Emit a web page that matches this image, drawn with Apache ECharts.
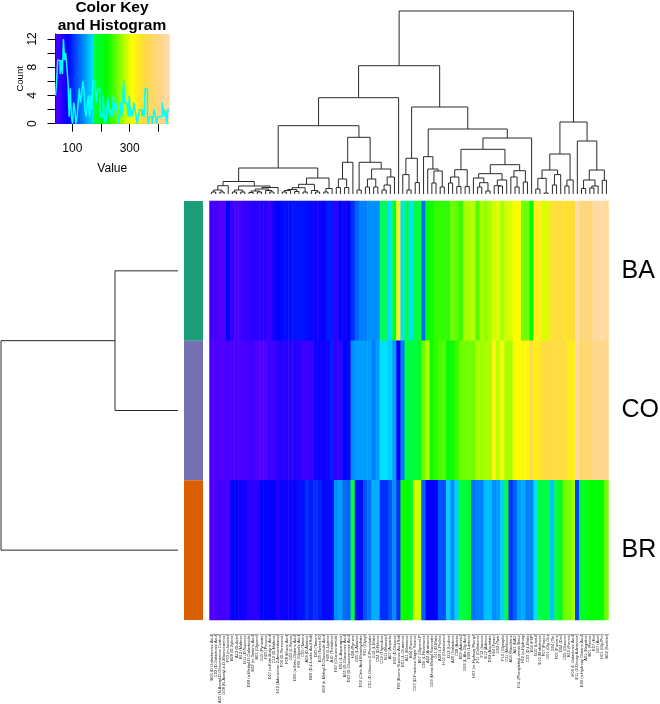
<!DOCTYPE html>
<html><head><meta charset="utf-8">
<style>html,body{margin:0;padding:0;background:#fff}#c{width:660px;height:704px}</style>
<script src="https://cdn.jsdelivr.net/npm/echarts@6/dist/echarts.min.js"></script></head>
<body><div id="c"></div>
<script>
const wellLabels = ["B06 (D-Galacturonic Acid)","C02 (D-Galactonic Acid)","A05 (N-Acetyl-D-Glucosamine Control)","G08 (N-Acetyl-b-D-Mannosamine)","F03 (m-Inositol)","B08 (D-Xylose)","A12 (Dulcitol)","B12 (Maltose)","D11 (D-Sucrose)","D08 (a-Methyl-D-Galactoside)","E02 (m-Tartaric Acid)","B03 (Glycerol)","G10 (Pyruvate)","H05 (Psicose)","D07 (a-Keto-Butyric Acid)","C10 (D-Maltose)","H12 (Adenosine-2-Aminoethanol)","F04 (D-Threonine)","F08 (Mucic Acid)","G03 (L-Serine)","D06 (a-Keto-Glutaric Acid)","F09 (Glycolic Acid)","C05 (Tween)","A09 (D-Alanine)","B09 (D,L-Lactic Acid Salt)","D05 (Tween)","E05 (Tween 80)","E08 (b-Methyl-D-Glucoside Acid)","H06 (L-Lyxose)","A10 (Trehalose)","H07 (Glucuronamide)","D01 (L-Asparagine)","B05 (D-Glucuronic Acid)","D03 (D-Glucosaminic Acid)","H08 (Pyruvic)","G05 (L-Alanine)","F02 (Citric Acid Monohydrate)","F01 (Glycyl)","C01 (D-Glucose-6-Phosphate)","G12 (L-Malic)","C04 (D-Ribose)","C12 (Thymidine)","B11 (Mannitol)","A07 (Aspartic)","E03 (D-Glucose)","F06 (Bromo Succinic Acid Salt)","E01 (L-Glutamine)","A11 (Mannose)","B04 (Fucose)","C07 (D-Fructose-Sugar Source)","B07 (Glycerol P)","C06 (L-Rhamnose)","A02 (Arabinose)","G09 (Mono Methyl Succinate)","G11 (D-Malic)","A08 (L-Proline)","H10 (Galacturon)","D12 (Uridine)","A06 (Galactose)","C08 (Acetic)","E09 (Adonitol)","G06 (L-Ala-Gly Acid)","D09 (Lactose)","H03 (m-Hydroxy Phenyl)","F11 (Cellobiose)","F12 (Inosine)","E12 (Adenos)","D02 (Aspartate)","H04 (Tyram)","G02 (Tartr)","F10 (Glyoxylic)","C11 (Melibiose)","A04 (Saccharic)","A03 (NAG)","H11 (Phenylethyl-amine Base)","H02 (p-Hydroxy)","C03 (D,L-Malic)","E04 (F6P)","D10 (Lactul)","E10 (Maltotriose)","F07 (Propio)","G01 (Gly-Glu)","G04 (Thr)","F05 (Fumaric)","D04 (Diol)","C09 (Glucose)","B10 (Formic)","H09 (L-Galactonic Acid)","E11 (2-Deoxy Adenosine)","E06 (a-Hydroxy Glutaric Acid)","A01 (Negative)","B01 (Serine)","E07 (Ket)","G07 (Acet)","H01 (Gly-Pro)","B02 (Sorbitol)"];
const rowNames = ["BA","CO","BR"];
const valuesBA = [49,49,41,42,85,58,44,49,58,58,63,63,63,63,55,72,85,88,90,90,92,92,92,90,88,76,76,86,94,94,58,85,76,85,103,122,134,134,140,140,140,174,174,171,190,327,171,175,171,175,176,126,220,225,236,236,236,236,258,252,236,278,278,284,247,278,269,278,290,295,278,290,295,307,307,258,258,220,325,325,295,295,345,345,350,340,345,345,437,395,400,395,428,428,437,420];
const valuesCO = [41,41,41,41,46,46,46,44,44,49,49,41,41,41,53,53,63,63,63,63,63,63,53,53,53,80,80,76,76,98,58,58,85,85,140,146,146,146,146,134,146,172,172,165,146,85,134,175,175,175,197,258,278,225,236,242,247,220,225,236,258,258,258,258,278,273,278,278,325,284,302,278,278,307,307,322,312,360,322,338,350,350,350,350,350,350,327,327,432,385,385,385,410,410,410,410];
const valuesBR = [41,41,49,49,46,85,85,76,76,63,63,63,85,85,85,85,68,80,80,80,80,91,91,103,94,103,97,88,88,91,140,146,128,122,176,90,90,116,128,152,152,103,103,116,140,103,225,220,197,290,290,122,85,85,85,116,116,165,140,165,175,175,190,128,134,134,159,159,140,146,165,180,103,122,146,152,134,134,171,175,175,175,159,175,197,258,258,278,109,197,197,220,220,220,220,258];
const histCounts = [4,6,9,9,7,9,7,12,9,10,8,6,1,5,1,0,3,2,0,1,3,5,3,4,6,5,2,1,3,4,1,4,2,6,6,5,3,5,5,2,1,1,4,1,0,1,4,2,1,2,1,4,2,3,2,1,0,3,1,2,6,3,3,3,1,4,1,2,1,3,2,1,0,1,2,2,1,2,1,5,5,1,0,1,1,0,1,2,1,0,1,1,1,1,3,2,1,2,0,2];
const keyRange = [41.4,437];
const keyStops = [[41.4,"#5000FF"],[85,"#0000FF"],[173,"#00E5FF"],[173.5,"#00FF40"],[220,"#00FF00"],[307,"#FFFF00"],[348,"#FFDC3C"],[400,"#FFD580"],[437,"#FFDCA8"]];
const sideColors = ["#1B9E77","#7570B3","#D95F02"];
const L = 0;
const colTree = [183,
  [128.3,
    [96.3,
      [68.3,
        [26,
          [12.5,
            [8.3,[4,[2,L,L],[2,L,L]],L],
            [8,[4,[2,L,L],[2,L,L]],[6.5,[5,[3,[1.5,L,L],[2,L,L]],[3.5,L,[2,L,L]]],L]]],
          [16,
            [9.7,[6.3,[4.5,[3.5,[2,L,L],L],[2.5,L,L]],[2,L,L]],[3.5,L,[2,L,L]]],
            [5.5,[2,L,L],L]]],
        [56.7,
          [31.7,[15,[6.5,L,L],[6.5,L,L]],L],
          [31.7,[4,L,L],[25,[15,[7,L,L],[7,L,L]],[17,[9,[4,L,L],L],L]]]]],
      L],
    [87,
      [35.7,[19.4,L,[4,L,L]],[11.4,L,L]],
      [65,
        [37.3,L,[25,L,[23,[11,L,L],[7,L,L]]]],
        [56,
          [44.7,
            [24.3,[17,[11,L,L],[7.5,L,L]],[7.5,L,L]],
            [29.3,
              [20.3,[16,L,[11.3,[7,L,L],[3,L,L]]],[14,[8.3,L,[8,L,L]],L]],
              [23.3,[17,L,[7,L,L]],[12,L,L]]]],
          L]]]],
  [72,
    [40,[24,[15.7,[5,L,L],[1,L,L]],[19.4,[9,L,L],L]],[14,[8,L,L],L]],
    [53,L,[24,[14,[5.5,L,L],[8,[6,L,L],L]],[13.7,L,L]]]]];
const rowTree = [177,[63,L,L],L];

function hex(c){return [1,3,5].map(i=>parseInt(c.substr(i,2),16));}
function colorAt(v){
  for(let i=1;i<keyStops.length;i++){
    if(v<=keyStops[i][0]){
      const [a,ca]=keyStops[i-1],[b,cb]=keyStops[i];const t=(v-a)/(b-a);const A=hex(ca),B=hex(cb);
      return 'rgb('+A.map((x,k)=>Math.round(x+(B[k]-x)*t)).join(',')+')';
    }
  }
  return keyStops[keyStops.length-1][1];
}
const PAL=400, palette=[];
for(let i=0;i<PAL;i++) palette.push(colorAt(keyRange[0]+(keyRange[1]-keyRange[0])*i/(PAL-1)));

function treeSegments(tree){
  const segs=[];let next=0;
  function walk(n){
    if(n===L) return {p:next++,h:0};
    const a=walk(n[1]),b=walk(n[2]);
    segs.push([a.p,a.h,a.p,n[0]],[a.p,n[0],b.p,n[0]],[b.p,n[0],b.p,b.h]);
    return {p:(a.p+b.p)/2,h:n[0]};
  }
  walk(tree);return segs;
}
function segRender(flip){
  return function(params,api){
    const v=[api.value(0),api.value(1),api.value(2),api.value(3)];
    const p1=flip?api.coord([v[1],v[0]]):api.coord([v[0],v[1]]);
    const p2=flip?api.coord([v[3],v[2]]):api.coord([v[2],v[3]]);
    return {type:'line',shape:{x1:p1[0],y1:p1[1],x2:p2[0],y2:p2[1]},style:{stroke:'#2a2a2a',lineWidth:1},silent:true};
  };
}
const FONT='"Liberation Sans",Arial,sans-serif';
const heatData=[];
[valuesBA,valuesCO,valuesBR].forEach((row,r)=>row.forEach((v,c)=>heatData.push([c,r,v])));
const binW=(keyRange[1]-keyRange[0])/histCounts.length;
const stepData=histCounts.map((c,i)=>[keyRange[0]+i*binW,c]);
stepData.push([keyRange[1],histCounts[histCounts.length-1]]);
const keySlices=palette.map((c,i)=>({value:[keyRange[0]+(keyRange[1]-keyRange[0])*i/PAL,keyRange[0]+(keyRange[1]-keyRange[0])*(i+1)/PAL],itemStyle:{color:c}}));

const G={outerBoundsMode:'none',containLabel:false};
const option={
  animation:false,backgroundColor:'#fff',
  textStyle:{fontFamily:FONT},
  title:{text:'Color Key\nand Histogram',left:107,top:-6,textAlign:'center',textStyle:{fontFamily:FONT,fontSize:15.5,fontWeight:'bold',lineHeight:18,color:'#000'}},
  grid:[
    {...G,left:209.5,top:201,width:399,height:419},
    {...G,left:184,top:201,width:19,height:419},
    {...G,left:209.5,top:11,width:399,height:183},
    {...G,left:1,top:201,width:177,height:419},
    {...G,left:55.5,top:34,width:113.5,height:89.7}
  ],
  xAxis:[
    {gridIndex:0,type:'category',data:wellLabels,axisLine:{show:false},axisTick:{show:false},
     axisLabel:{interval:0,rotate:90,fontSize:4,margin:14,color:'#222',fontFamily:FONT,hideOverlap:false}},
    {gridIndex:1,type:'category',data:['side'],show:false},
    {gridIndex:2,type:'value',min:-0.5,max:95.5,show:false},
    {gridIndex:3,type:'value',min:0,max:177,inverse:true,show:false},
    {gridIndex:4,type:'value',min:keyRange[0],max:keyRange[1],
     name:'Value',nameLocation:'middle',nameGap:39,nameTextStyle:{fontSize:12,color:'#000',fontFamily:FONT},
     axisLine:{show:true,lineStyle:{color:'#000',width:1}},splitLine:{show:false},
     axisTick:{show:true,length:8,lineStyle:{color:'#000'},customValues:[100,200,300,400]},
     axisLabel:{fontSize:12,color:'#000',margin:19,customValues:[100,300],fontFamily:FONT}}
  ],
  yAxis:[
    {gridIndex:0,type:'category',data:rowNames,inverse:true,position:'right',axisLine:{show:false},axisTick:{show:false},
     axisLabel:{fontSize:25,color:'#000',margin:13,fontFamily:FONT}},
    {gridIndex:1,type:'category',data:rowNames,inverse:true,show:false},
    {gridIndex:2,type:'value',min:0,max:183,show:false},
    {gridIndex:3,type:'value',min:-0.5,max:2.5,inverse:true,show:false},
    {gridIndex:4,type:'value',min:0,max:12.7,
     name:'Count',nameLocation:'middle',nameGap:28.5,nameTextStyle:{fontSize:9.5,color:'#000',fontFamily:FONT},
     axisLine:{show:true,lineStyle:{color:'#000',width:1}},splitLine:{show:false},
     axisTick:{show:true,length:8,lineStyle:{color:'#000'},customValues:[0,2,4,6,8,10,12]},
     axisLabel:{fontSize:12,color:'#000',rotate:90,margin:17,customValues:[0,4,8,12],fontFamily:FONT}}
  ],
  visualMap:{show:false,seriesIndex:0,min:keyRange[0],max:keyRange[1],inRange:{color:palette}},
  series:[
    {type:'heatmap',xAxisIndex:0,yAxisIndex:0,data:heatData,progressive:0},
    {type:'custom',xAxisIndex:1,yAxisIndex:1,data:rowNames.map((n,i)=>[i]),
     renderItem:(p,api)=>{const i=api.value(0);const c=api.coord([0,i]);const s=api.size([1,1]);
       return {type:'rect',shape:{x:c[0]-s[0]/2,y:c[1]-s[1]/2,width:s[0],height:s[1]},style:{fill:sideColors[i]}};},
     encode:{x:-1,y:0}},
    {type:'custom',xAxisIndex:2,yAxisIndex:2,data:treeSegments(colTree),renderItem:segRender(false),clip:false},
    {type:'custom',xAxisIndex:3,yAxisIndex:3,data:treeSegments(rowTree),renderItem:segRender(true),clip:false},
    {type:'custom',xAxisIndex:4,yAxisIndex:4,data:keySlices,z:1,
     renderItem:(p,api)=>{const a=api.coord([api.value(0),0]),b=api.coord([api.value(1),12.7]);
       return {type:'rect',shape:{x:a[0],y:b[1],width:b[0]-a[0]+0.6,height:a[1]-b[1]},style:{fill:api.visual('color')}};},
     encode:{x:[0,1]}},
    {type:'line',xAxisIndex:4,yAxisIndex:4,data:stepData,step:'end',showSymbol:false,symbol:'none',z:3,
     lineStyle:{color:'#00FFFF',width:1.5}}
  ]
};
const chart=echarts.init(document.getElementById('c'),null,{renderer:'canvas',width:660,height:704});
chart.setOption(option);
</script></body></html>
